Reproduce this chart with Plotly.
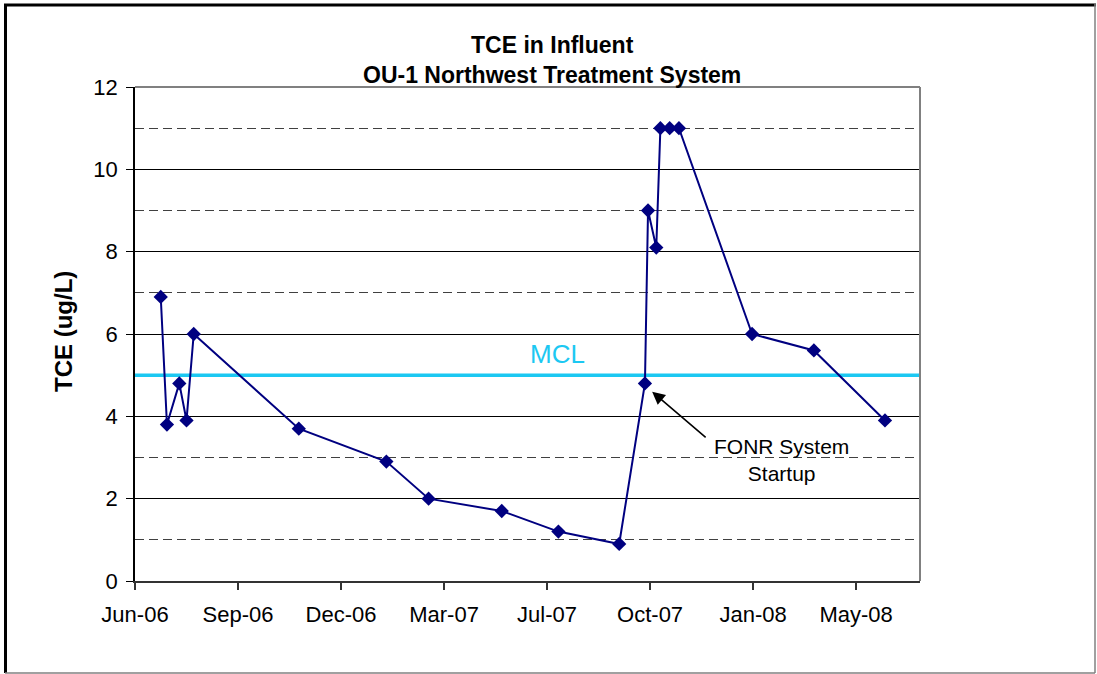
import plotly.graph_objects as go

# ---- data ----
sample_dates = ["2006-06-26", "2006-07-02", "2006-07-14", "2006-07-21", "2006-07-28",
                "2006-11-07", "2007-01-31", "2007-03-13", "2007-05-23", "2007-07-17",
                "2007-09-14", "2007-10-09", "2007-10-12", "2007-10-20", "2007-10-24",
                "2007-11-02", "2007-11-11", "2008-01-21", "2008-03-21", "2008-05-29"]
tce_values = [6.9, 3.8, 4.8, 3.9, 6.0,
              3.7, 2.9, 2.0, 1.7, 1.2,
              0.9, 4.8, 9.0, 8.1, 11.0,
              11.0, 11.0, 6.0, 5.6, 3.9]
tick_dates = ["2006-06-01", "2006-09-09", "2006-12-18", "2007-03-28",
              "2007-07-06", "2007-10-14", "2008-01-22", "2008-05-01"]
tick_labels = ["Jun-06", "Sep-06", "Dec-06", "Mar-07", "Jul-07", "Oct-07", "Jan-08", "May-08"]
minor_grid_values = [1, 3, 7, 9, 11]
x_range = ["2006-06-01", "2008-07-02"]
mcl_value = 5
startup_date = "2007-10-16"
startup_level = 4.6

FONT = "Arial, Liberation Sans, sans-serif"
W, H = 1097, 674
L, R, T, B = 135, 177, 87, 93
PW, PH = W - L - R, H - T - B


def px(x):
    return (x - L) / PW


def py(y):
    return (H - B - y) / PH


fig = go.Figure()
fig.add_trace(go.Scatter(
    x=sample_dates, y=tce_values, mode="lines+markers",
    line=dict(color="#000080", width=2),
    marker=dict(symbol="diamond", size=11, color="#000080"),
    showlegend=False,
))

shapes = [
    # MCL line
    dict(type="line", xref="paper", yref="y", x0=0, x1=1, y0=mcl_value, y1=mcl_value,
         line=dict(color="#1CC8F2", width=3.5), layer="between"),
    # plot area top & right border
    dict(type="line", xref="paper", yref="paper", x0=0, x1=1, y0=1, y1=1,
         line=dict(color="#808080", width=2)),
    dict(type="line", xref="paper", yref="paper", x0=1, x1=1, y0=0, y1=1,
         line=dict(color="#808080", width=2)),
    # outer chart border
    dict(type="line", xref="paper", yref="paper", x0=px(4), x1=px(1096), y0=py(5), y1=py(5),
         line=dict(color="black", width=3)),
    dict(type="line", xref="paper", yref="paper", x0=px(5.5), x1=px(5.5), y0=py(4), y1=py(673),
         line=dict(color="black", width=3)),
    dict(type="line", xref="paper", yref="paper", x0=px(1095), x1=px(1095), y0=py(4), y1=py(673),
         line=dict(color="#808080", width=1.5)),
    dict(type="line", xref="paper", yref="paper", x0=px(5), x1=px(1095), y0=py(673), y1=py(673),
         line=dict(color="#808080", width=1.5)),
]

annotations = [
    dict(text="<b>TCE in Influent<br>OU-1 Northwest Treatment System</b>",
         xref="paper", yref="paper", x=px(552), y=py(60), xanchor="center", yanchor="middle",
         showarrow=False, font=dict(family=FONT, size=23, color="black")),
    dict(text="<b>TCE (ug/L)</b>", textangle=-90,
         xref="paper", yref="paper", x=px(63), y=py(332), xanchor="center", yanchor="middle",
         showarrow=False, font=dict(family=FONT, size=24, color="black")),
    dict(text="MCL", xref="paper", yref="paper", x=px(557), y=py(354),
         xanchor="center", yanchor="middle", showarrow=False,
         font=dict(family=FONT, size=26, color="#1CC8F2")),
    dict(text="", x=startup_date, y=startup_level, xref="x", yref="y",
         showarrow=True, ax=55, ay=47, arrowhead=2, arrowsize=1.6, arrowwidth=1.6,
         arrowcolor="black", standoff=0),
    dict(text="FONR System<br>Startup", xref="paper", yref="paper", x=px(781), y=py(460),
         xanchor="center", yanchor="middle", showarrow=False,
         font=dict(family=FONT, size=21, color="black")),
]

fig.update_layout(
    width=W, height=H, autosize=False,
    margin=dict(l=L, r=R, t=T, b=B, pad=0),
    paper_bgcolor="white", plot_bgcolor="white",
    font=dict(family=FONT, color="black"),
    shapes=shapes, annotations=annotations,
    xaxis=dict(
        type="date", range=x_range, tickmode="array",
        tickvals=tick_dates, ticktext=tick_labels,
        ticks="outside", ticklen=7, tickcolor="#333", tickwidth=1.5,
        showgrid=False, zeroline=False,
        showline=True, linecolor="#333", linewidth=2,
        tickfont=dict(family=FONT, size=22, color="black"),
        ticklabelstandoff=6,
    ),
    yaxis=dict(
        range=[0, 12], dtick=2, tick0=0,
        ticks="outside", ticklen=7, tickcolor="black", tickwidth=1,
        showgrid=True, gridcolor="black", gridwidth=1,
        zeroline=False, showline=True, linecolor="black", linewidth=1.5,
        tickfont=dict(family=FONT, size=22, color="black"),
        ticklabelstandoff=4,
        minor=dict(tickmode="array", tickvals=minor_grid_values, showgrid=True,
                   gridcolor="#404040", gridwidth=1, griddash="9px,5px", ticks=""),
    ),
)

fig.write_html("out.html", config={"displayModeBar": False},
               post_script="document.body.style.margin='0px';")
